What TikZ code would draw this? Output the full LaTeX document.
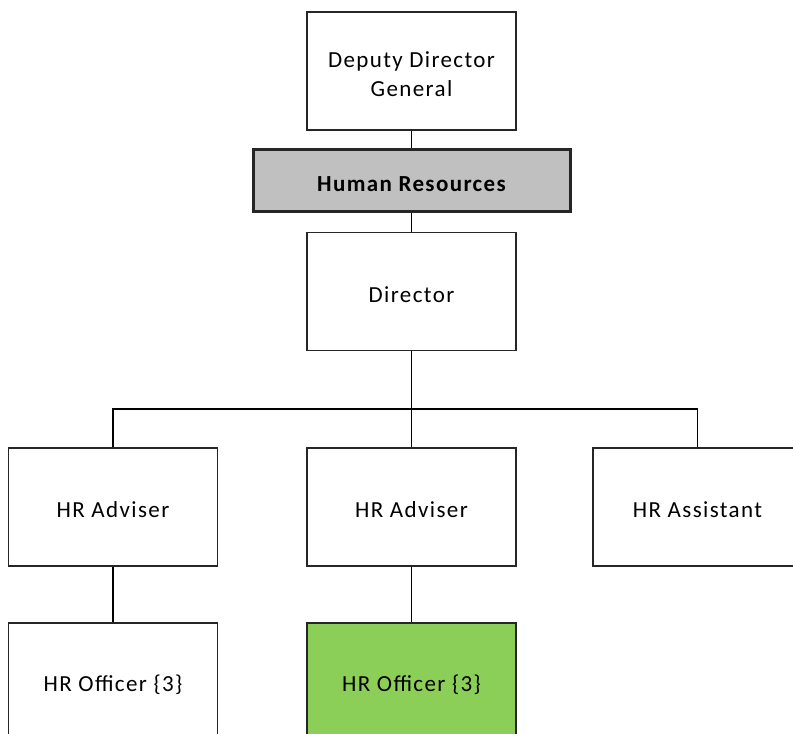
\documentclass[tikz,border=0pt]{standalone}
\usepackage{fontspec}
\setmainfont{Carlito}[LetterSpace=6]
\definecolor{hrgray}{RGB}{192,192,192}
\definecolor{hrgreen}{RGB}{140,207,88}
\begin{document}
\begin{tikzpicture}[x=1pt,y=-1pt,
  box/.style={draw=black!85, line width=1.4pt, fill=white, minimum width=209pt, minimum height=118pt, inner sep=0pt},
  lbl/.style={align=center, inner sep=0pt, yshift=-3pt, font=\fontsize{23}{29}\selectfont},
  hrbox/.style={draw=black!85, line width=3pt, fill=hrgray, minimum width=317pt, minimum height=62pt, inner sep=0pt},
  hrlbl/.style={inner sep=0pt, yshift=-4pt, font=\fontsize{23}{26}\selectfont\bfseries},
  link/.style={draw=black, line width=1.4pt}]
\useasboundingbox (0,0) rectangle (793,734);
\clip (0,0) rectangle (793,734);
\node[box, label={[lbl]center:{Deputy Director\\General}}] (ddg) at (411.5,71) {};
\node[hrbox, label={[hrlbl]center:Human Resources}] (hr) at (411.5,180) {};
\node[box, label={[lbl]center:Director}] (dir) at (411.5,291.5) {};
\node[box, label={[lbl]center:HR Adviser}] (adv1) at (113,507) {};
\node[box, label={[lbl]center:HR Adviser}] (adv2) at (411.5,507) {};
\node[box, label={[lbl]center:HR Assistant}] (asst) at (697.5,507) {};
\node[box, label={[lbl]center:HR Officer \{3\}}] (off1) at (113,682) {};
\node[box, fill=hrgreen, label={[lbl]center:HR Officer \{3\}}] (off2) at (411.5,682) {};
\coordinate (bus) at (411.5,409);
\path[link] (ddg.south) -- (hr.north);
\path[link] (hr.south) -- (dir.north);
\path[link] (dir.south) -- (bus);
\path[link] (adv1.north) |- (bus) -| (asst.north);
\path[link] (bus) -- (adv2.north);
\path[link] (adv1.south) -- (off1.north);
\path[link] (adv2.south) -- (off2.north);
\end{tikzpicture}
\end{document}
